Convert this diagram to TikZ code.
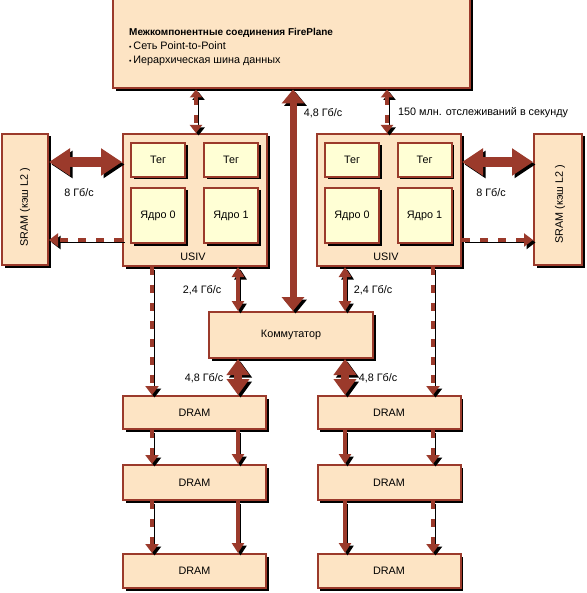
\documentclass[tikz,border=0pt]{standalone}
\usepackage{fontspec}
\setmainfont{Liberation Sans}
\usetikzlibrary{arrows.meta,shadows}
\definecolor{rust}{RGB}{155,58,43}
\definecolor{peach}{RGB}{253,228,196}
\definecolor{pale}{RGB}{255,255,213}
\begin{document}
\begin{tikzpicture}[x=1pt,y=-1pt,font=\fontsize{10.8}{13}\selectfont,
  box/.style={draw=rust,line width=2pt,fill=peach,inner sep=0pt,
    drop shadow={shadow xshift=2.5pt,shadow yshift=-2.5pt,opacity=1,fill=black}},
  inbox/.style={box,fill=pale,minimum width=54pt,align=center},
  shad/.style={preaction={draw=black,transform canvas={xshift=2.5pt,yshift=-2.5pt}}},
  bigdbl/.style={shad,draw=rust,line width=10pt,{Triangle[width=26pt,length=21pt]}-{Triangle[width=26pt,length=21pt]}},
  fpdbl/.style={shad,draw=rust,line width=7pt,{Triangle[width=22pt,length=14pt]}-{Triangle[width=22pt,length=14pt]}},
  drdbl/.style={shad,draw=rust,line width=8pt,{Triangle[width=22pt,length=16pt]}-{Triangle[width=22pt,length=16pt]}},
  thindbl/.style={shad,draw=rust,line width=4pt,{Triangle[width=12pt,length=10pt]}-{Triangle[width=12pt,length=10pt]}},
  thinarr/.style={shad,draw=rust,line width=4pt,-{Triangle[width=12pt,length=10pt]}},
  dasharr/.style={shad,draw=rust,line width=4pt,dash pattern=on 8pt off 10pt,-{Triangle[width=13pt,length=9pt]}},
  dashdbl/.style={shad,draw=rust,line width=4pt,dash pattern=on 8pt off 10pt,{Triangle[width=12pt,length=8pt]}-{Triangle[width=12pt,length=8pt]}},
  lbl/.style={inner sep=0pt}
]
\useasboundingbox (0,0) rectangle (586,593);
\fill[white] (0,0) rectangle (586,593);
\clip (0,0) rectangle (586,593);

% helper coordinates
\coordinate (c152) at (152,0);
\coordinate (c196) at (196,0);
\coordinate (c238) at (238,0);
\coordinate (c293) at (293,0);
\coordinate (c345) at (345,0);
\coordinate (c387) at (387,0);
\coordinate (c433) at (433,0);
\coordinate (r162) at (0,162);
\coordinate (r240) at (0,240);

% boxes
\node[box,minimum width=357pt,minimum height=98pt] (fp) at (291.5,39.5) {};
\node[lbl,anchor=west,align=left] (fptext) at (129,47)
  {{\fontsize{10}{12}\selectfont\textbf{Межкомпонентные соединения FirePlane}}\\[1pt]
   {\scriptsize\textbullet}\,Сеть Point-to-Point\\[1pt]
   {\scriptsize\textbullet}\,Иерархическая шина данных};

\node[box,minimum width=144pt,minimum height=132pt] (usivL) at (195,200) {};
\node[lbl] (usivLt) at (193,257) {USIV};
\node[inbox,minimum height=34pt] (tegLa) at (158,160) {Тег};
\node[inbox,minimum height=34pt] (tegLb) at (231,160) {Тег};
\node[inbox,minimum height=55pt] (coreL0) at (158,215.5) {Ядро 0};
\node[inbox,minimum height=55pt] (coreL1) at (231,215.5) {Ядро 1};

\node[box,minimum width=144pt,minimum height=132pt] (usivR) at (389,200) {};
\node[lbl] (usivRt) at (386,257) {USIV};
\node[inbox,minimum height=34pt] (tegRa) at (352,160) {Тег};
\node[inbox,minimum height=34pt] (tegRb) at (424.5,160) {Тег};
\node[inbox,minimum height=55pt] (coreR0) at (352,215.5) {Ядро 0};
\node[inbox,minimum height=55pt] (coreR1) at (424.5,215.5) {Ядро 1};

\node[box,minimum width=46pt,minimum height=131pt] (sramL) at (25,199.5) {};
\node[lbl,rotate=90] (sramLt) at (25,207) {SRAM (кэш L2 )};
\node[box,minimum width=48pt,minimum height=131pt] (sramR) at (558,199.5) {};
\node[lbl,rotate=90] (sramRt) at (560,204) {SRAM (кэш L2 )};

\node[box,minimum width=164pt,minimum height=46pt] (komm) at (291,335) {Коммутатор};

\node[box,minimum width=143pt,minimum height=33pt] (dL1) at (194.5,412.5) {DRAM};
\node[box,minimum width=143pt,minimum height=33pt] (dR1) at (389,412.5) {DRAM};
\node[box,minimum width=143pt,minimum height=35pt] (dL2) at (194.5,482.5) {DRAM};
\node[box,minimum width=143pt,minimum height=35pt] (dR2) at (389,482.5) {DRAM};
\node[box,minimum width=143pt,minimum height=34pt] (dL3) at (194.5,571) {DRAM};
\node[box,minimum width=143pt,minimum height=34pt] (dR3) at (389,571) {DRAM};

% connectors
\draw[bigdbl] (sramL.east |- r162) -- (usivL.west |- r162);
\draw[bigdbl] (usivR.east |- r162) -- (sramR.west |- r162);
\draw[dasharr] (usivL.west |- r240) -- (sramL.east |- r240);
\draw[dasharr] (usivR.east |- r240) -- (sramR.west |- r240);

\draw[dashdbl] (fp.south -| c196) -- (usivL.north -| c196);
\draw[dashdbl] (fp.south -| c387) -- (usivR.north -| c387);
\draw[fpdbl] (fp.south -| c293) -- (komm.north -| c293);

\draw[thindbl] (usivL.south -| c238) -- (komm.north -| c238);
\draw[thindbl] (usivR.south -| c345) -- (komm.north -| c345);
\draw[dasharr] (usivL.south -| c152) -- (dL1.north -| c152);
\draw[dasharr] (usivR.south -| c433) -- (dR1.north -| c433);

\draw[drdbl] (komm.south -| c238) -- (dL1.north -| c238);
\draw[drdbl] (komm.south -| c345) -- (dR1.north -| c345);

\draw[dasharr] (dL1.south -| c152) -- (dL2.north -| c152);
\draw[thinarr] (dL1.south -| c238) -- (dL2.north -| c238);
\draw[dasharr] (dL2.south -| c152) -- (dL3.north -| c152);
\draw[thinarr] (dL2.south -| c238) -- (dL3.north -| c238);
\draw[thinarr] (dR1.south -| c345) -- (dR2.north -| c345);
\draw[dasharr] (dR1.south -| c433) -- (dR2.north -| c433);
\draw[thinarr] (dR2.south -| c345) -- (dR3.north -| c345);
\draw[dasharr] (dR2.south -| c433) -- (dR3.north -| c433);

% labels
\node[lbl] (l48a) at (323,113) {4,8 Гб/с};
\node[lbl,anchor=west] (l150) at (398,113) {150 млн. отслеживаний в секунду};
\node[lbl] (l8a) at (79,193) {8 Гб/с};
\node[lbl] (l8b) at (491,193) {8 Гб/с};
\node[lbl] (l24a) at (202,290) {2,4 Гб/с};
\node[lbl] (l24b) at (373,290) {2,4 Гб/с};
\node[lbl] (l48b) at (204,378) {4,8 Гб/с};
\node[lbl] (l48c) at (378,378) {4,8 Гб/с};
\end{tikzpicture}
\end{document}
